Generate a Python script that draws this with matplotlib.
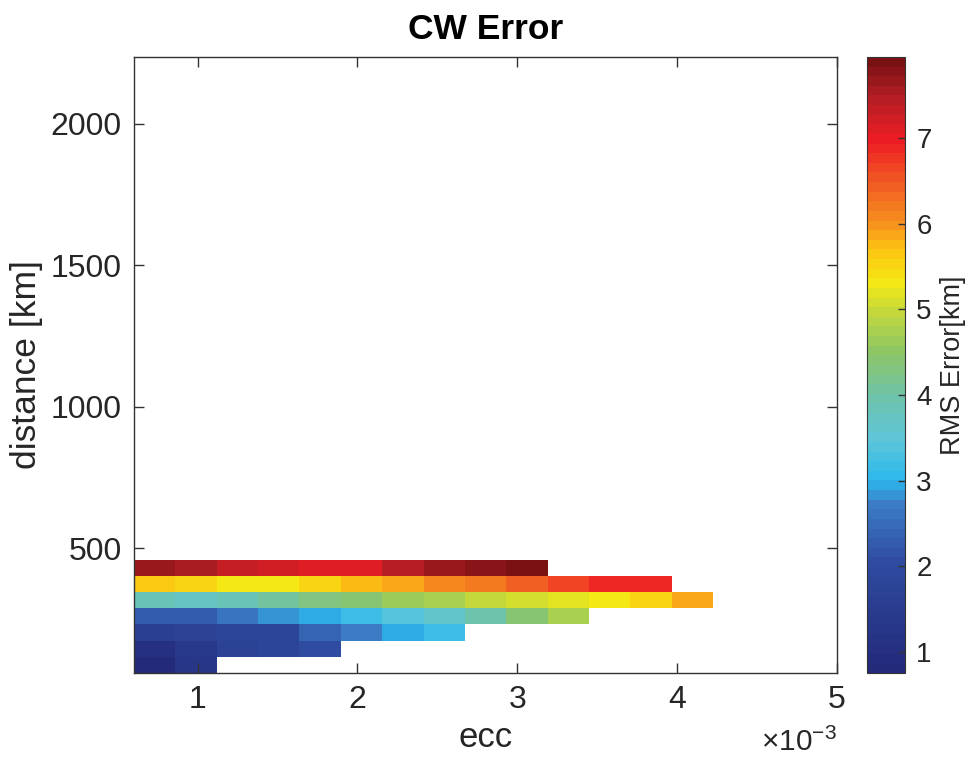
import numpy as np
import matplotlib
matplotlib.use("Agg")
import matplotlib.pyplot as plt
from matplotlib.colors import LinearSegmentedColormap
from matplotlib.ticker import FuncFormatter

# grid of the map (cell edges)
ecc_edges = np.linspace(0.602e-3, 5.0e-3, 18)
dist_edges = np.linspace(58, 2237, 39)

# RMS error [km] per row, bottom row first, starting at the first ecc cell
rms_rows = [
    [0.76, 1.30],
    [1.05, 1.40, 1.70, 1.80, 2.05],
    [1.60, 1.70, 1.80, 1.85, 2.40, 2.70, 3.00, 3.20],
    [2.30, 2.30, 2.60, 2.80, 3.00, 3.20, 3.40, 3.60, 4.00, 4.40, 4.70],
    [3.80, 3.70, 3.90, 4.05, 4.30, 4.40, 4.60, 4.75, 4.95, 5.10, 5.20, 5.35, 5.50, 5.85],
    [5.65, 5.50, 5.35, 5.30, 5.50, 5.75, 5.90, 6.05, 6.25, 6.45, 6.60, 6.85, 6.90],
    [7.65, 7.50, 7.35, 7.20, 7.05, 7.15, 7.45, 7.65, 7.80, 7.945],
]

Z = np.full((len(dist_edges) - 1, len(ecc_edges) - 1), np.nan)
for i, row in enumerate(rms_rows):
    Z[i, :len(row)] = row

# jet-like map of the original
anchors = [
    (0.00, "#232a7a"), (0.17, "#2e4a9e"), (0.27, "#3b7cc4"), (0.31, "#2bb8ec"),
    (0.38, "#5fc6d8"), (0.45, "#6ec3a8"), (0.52, "#8dc667"), (0.59, "#c6d93a"),
    (0.635, "#f4e914"), (0.69, "#fdc412"), (0.73, "#f7941d"), (0.80, "#f15a24"),
    (0.87, "#ed1c24"), (0.94, "#b41e24"), (1.00, "#7a1214"),
]
cmap = LinearSegmentedColormap.from_list("rms", anchors, N=64)
cmap.set_bad("white")

plt.rcParams['font.family'] = ['Liberation Sans', 'DejaVu Sans']
plt.rcParams['mathtext.default'] = 'regular'
fig = plt.figure(figsize=(9.67, 7.6), dpi=100)
ax = fig.add_axes([0.1386, 0.1145, 0.727, 0.8105])
cax = fig.add_axes([0.8966, 0.1145, 0.0393, 0.8105])

mesh = ax.pcolormesh(ecc_edges, dist_edges, np.ma.masked_invalid(Z), cmap=cmap,
                     vmin=0.755, vmax=7.945)
ax.set_xlim(ecc_edges[0], ecc_edges[-1])
ax.set_ylim(dist_edges[0], dist_edges[-1])
ax.set_xticks([1e-3, 2e-3, 3e-3, 4e-3, 5e-3])
ax.xaxis.set_major_formatter(FuncFormatter(lambda v, p: "%g" % round(v * 1e3, 6)))
ax.set_yticks([500, 1000, 1500, 2000])

txt = "#262626"
for a in (ax, cax):
    for s in a.spines.values():
        s.set_color("#333333")
        s.set_linewidth(1.0)
ax.tick_params(direction="in", top=True, right=True, length=7, width=1,
               labelsize=23, colors="#333333", labelcolor=txt, pad=9)
ax.set_xlabel("ecc", fontsize=25, color=txt, labelpad=4)
ax.set_ylabel("distance [km]", fontsize=25.5, color=txt, labelpad=5)
ax.set_title("CW Error", fontsize=25.5, fontweight="bold", pad=13)
ax.text(1.0, -0.127, r"$\times10^{-3}$", transform=ax.transAxes, ha="right",
        va="baseline", fontsize=21.5, color=txt)

cb = fig.colorbar(mesh, cax=cax)
cb.set_ticks([1, 2, 3, 4, 5, 6, 7])
cb.outline.set_edgecolor("#333333")
cax.tick_params(direction="in", length=5, width=1, labelsize=20,
                colors="#333333", labelcolor=txt, pad=8)
cb.set_label("RMS Error[km]", fontsize=19.5, color=txt, labelpad=6)

fig.savefig("out.png", dpi=100)
